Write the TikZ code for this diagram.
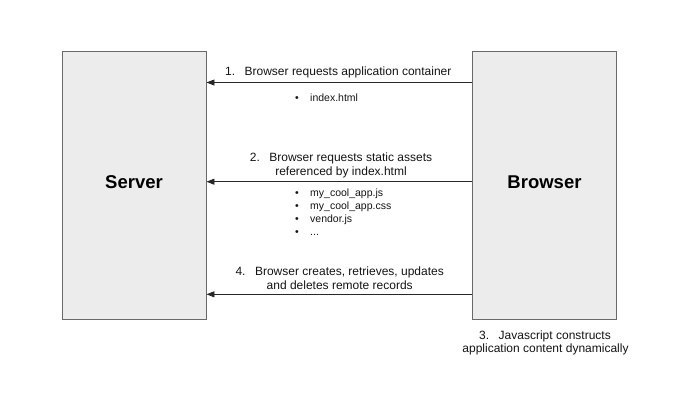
\documentclass[tikz,border=0pt]{standalone}
\usepackage{fontspec}
\setmainfont{Liberation Sans}
\usetikzlibrary{arrows.meta}
\definecolor{boxfill}{RGB}{236,236,236}
\definecolor{boxline}{RGB}{105,105,105}
\definecolor{arrline}{RGB}{40,40,40}
\definecolor{txt}{RGB}{20,20,20}
\tikzset{
  party/.style={draw=boxline, fill=boxfill, line width=0.9pt, minimum width=144pt, minimum height=268pt, inner sep=0pt, text height=13.4pt, text depth=7pt, font=\fontsize{18.5}{22}\selectfont\bfseries, text=black},
  msg/.style={draw=arrline, line width=0.9pt, -{Triangle[length=8pt,width=6pt]}},
  lbl/.style={font=\fontsize{12}{13.5}\selectfont, text=txt, anchor=base, inner sep=0pt, align=center},
  bul/.style={font=\fontsize{10.5}{13}\selectfont, text=txt, anchor=base west, inner sep=0pt},
  dot/.style={font=\fontsize{10.5}{13}\selectfont, text=txt, anchor=base, inner sep=0pt}
}
\begin{document}
\begin{tikzpicture}[x=1pt,y=-1pt]
\useasboundingbox (0,0) rectangle (680,402);
\node[party] (server) at (134,185) {Server};
\node[party] (browser) at (544.5,185) {Browser};
\coordinate (b1) at (browser.west |- 0,82.5);
\coordinate (s1) at (server.east |- 0,82.5);
\coordinate (b2) at (browser.west |- 0,181.7);
\coordinate (s2) at (server.east |- 0,181.7);
\coordinate (b4) at (browser.west |- 0,294.3);
\coordinate (s4) at (server.east |- 0,294.3);
\draw[msg] (b1) -- (s1);
\draw[msg] (b2) -- (s2);
\draw[msg] (b4) -- (s4);
% labels
\node[lbl] (l1) at (338.3,75.6) {1.\hspace{9.5pt}Browser requests application container};
\node[lbl] (l2a) at (341,161.7) {2.\hspace{9.5pt}Browser requests static assets};
\node[lbl] (l2b) at (341,175.7) {referenced by index.html};
\node[lbl] (l4a) at (339.7,275.7) {4.\hspace{9.5pt}Browser creates, retrieves, updates};
\node[lbl] (l4b) at (339.7,289) {and deletes remote records};
\node[lbl] (l3a) at (545,339.3) {3.\hspace{9.5pt}Javascript constructs};
\node[lbl] (l3b) at (545.5,352.6) {application content dynamically};
% bullets
\node[dot] (d0) at (297,101.2) {•};
\node[bul] (i0) at (310,101.2) {index.html};
\node[dot] (d1) at (297,196) {•};
\node[bul] (i1) at (310,196) {my\_cool\_app.js};
\node[dot] (d2) at (297,209) {•};
\node[bul] (i2) at (310,209) {my\_cool\_app.css};
\node[dot] (d3) at (297,222) {•};
\node[bul] (i3) at (310,222) {vendor.js};
\node[dot] (d4) at (297,235) {•};
\node[bul] (i4) at (310,235) {...};
\end{tikzpicture}
\end{document}
